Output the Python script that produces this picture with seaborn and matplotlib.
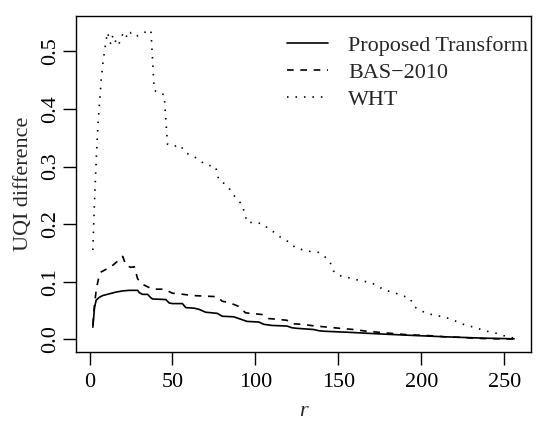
import numpy as np
import pandas as pd
import matplotlib
matplotlib.use("Agg")
import matplotlib.pyplot as plt
import seaborn as sns

# ---------------- data ----------------
series_names = ["Proposed Transform", "BAS\u22122010", "WHT"]

proposed_r = [2, 3, 4, 6, 8, 12, 16, 20, 24, 29, 30, 32, 35, 37, 38, 46, 48, 50,
              56, 58, 63, 66, 70, 77, 80, 87, 90, 95, 102, 105, 110, 119, 122,
              125, 135, 138, 141, 157, 177, 197, 217, 237, 256]
proposed_uqi = [0.021, 0.055, 0.068, 0.073, 0.076, 0.079, 0.082, 0.084, 0.085,
                0.085, 0.081, 0.078, 0.078, 0.072, 0.070, 0.069, 0.063, 0.062,
                0.062, 0.055, 0.054, 0.052, 0.047, 0.045, 0.040, 0.039, 0.036,
                0.031, 0.030, 0.026, 0.024, 0.023, 0.020, 0.019, 0.017, 0.015,
                0.014, 0.012, 0.009, 0.0064, 0.004, 0.002, 0.0008]

bas_r = [2, 3, 4, 5, 6, 7, 9, 13, 17, 20, 22, 25, 27, 29, 31, 33, 38, 45, 50,
         54, 62, 69, 77, 80, 84, 90, 94, 97, 104, 108, 112, 119, 122, 128, 136,
         144, 151, 159, 167, 175, 183, 191, 199, 207, 215, 223, 231, 240, 256]
bas_uqi = [0.025, 0.060, 0.085, 0.100, 0.112, 0.117, 0.120, 0.126, 0.136,
           0.144, 0.128, 0.125, 0.126, 0.105, 0.098, 0.094, 0.087, 0.087,
           0.080, 0.079, 0.076, 0.075, 0.074, 0.066, 0.064, 0.057, 0.046,
           0.045, 0.043, 0.036, 0.035, 0.033, 0.027, 0.026, 0.023, 0.021,
           0.019, 0.017, 0.014, 0.012, 0.010, 0.008, 0.007, 0.006, 0.004,
           0.0035, 0.002, 0.001, 0.0005]

wht_r = [2, 3, 4, 5, 6, 7, 8, 9, 10, 11, 12, 13, 14, 15, 16, 17, 18, 19, 20,
         21, 22, 23, 24, 25, 26, 28, 29, 31, 33, 35, 37, 39, 41, 45, 47, 50,
         55, 57, 60, 62, 66, 70, 76, 78, 81, 84, 87, 90, 92, 95, 100, 105,
         108, 112, 116, 121, 124, 129, 134, 138, 142, 145, 147, 150, 155, 160,
         165, 170, 174, 178, 183, 188, 193, 196, 203, 208, 213, 218, 222, 227,
         232, 237, 242, 246, 251, 256]
wht_uqi = [0.155, 0.240, 0.310, 0.370, 0.410, 0.450, 0.478, 0.500, 0.520,
           0.533, 0.517, 0.513, 0.528, 0.527, 0.513, 0.510, 0.515, 0.522,
           0.530, 0.534, 0.528, 0.523, 0.528, 0.533, 0.534, 0.530, 0.527,
           0.530, 0.533, 0.535, 0.537, 0.433, 0.428, 0.425, 0.339, 0.335,
           0.337, 0.326, 0.321, 0.319, 0.312, 0.303, 0.300, 0.276, 0.271,
           0.263, 0.250, 0.240, 0.234, 0.203, 0.203, 0.200, 0.191, 0.185,
           0.175, 0.168, 0.159, 0.155, 0.152, 0.151, 0.143, 0.134, 0.119,
           0.111, 0.108, 0.104, 0.101, 0.098, 0.092, 0.085, 0.082, 0.076,
           0.072, 0.056, 0.045, 0.042, 0.039, 0.035, 0.030, 0.024, 0.021,
           0.016, 0.012, 0.010, 0.005, 0.002]

x_ticks = [0, 50, 100, 150, 200, 250]
y_ticks = [0.0, 0.1, 0.2, 0.3, 0.4, 0.5]
y_tick_labels = ["0.0", "0.1", "0.2", "0.3", "0.4", "0.5"]

# ---------------- styling ----------------
sns.set_style("ticks")
plt.rcParams['font.family'] = ['Liberation Serif', 'DejaVu Serif']
plt.rcParams['lines.scale_dashes'] = False
FS = 15.9

W, H = 538, 423
fig = plt.figure(figsize=(W / 100, H / 100), dpi=100)
ax = fig.add_axes([76 / W, (H - 351.7) / H, 455 / W, 335.7 / H])

series = [
    (series_names[0], proposed_r, proposed_uqi, '-'),
    (series_names[1], bas_r, bas_uqi, (0, (4.8, 4.8))),
    (series_names[2], wht_r, wht_uqi, (0, (1.1, 5.0))),
]

handles = []
for name, r, v, ls in series:
    df = pd.DataFrame({"r": r, "uqi": v})
    sns.lineplot(data=df, x="r", y="uqi", ax=ax, color="black",
                 linewidth=1.2, estimator=None, sort=False)
    line = ax.lines[-1]
    line.set_linestyle(ls)
    line.set_label(name)
    handles.append(line)

ax.set_xlim(-8.16, 266.16)
ax.set_ylim(-0.0216, 0.5616)
ax.set_xticks(x_ticks)
ax.set_xticklabels([str(t) for t in x_ticks])
ax.set_yticks(y_ticks)
ax.set_yticklabels(y_tick_labels, rotation=90, va='center')

for sp in ax.spines.values():
    sp.set_visible(True)
    sp.set_color('black')
    sp.set_linewidth(1.0)

ax.tick_params(axis='both', direction='out', length=9.4, width=1.0,
               colors='black', labelsize=FS, bottom=True, left=True)
ax.tick_params(axis='x', pad=6)
ax.tick_params(axis='y', pad=2)

ax.set_xlabel("r", fontsize=FS, style='italic', labelpad=7)
ax.set_ylabel("UQI difference", fontsize=FS, labelpad=6)

ax.legend(handles=handles, labels=series_names, loc='upper left',
          bbox_to_anchor=(0.463, 0.943), frameon=False, fontsize=FS,
          handlelength=1.88, handletextpad=0.9, labelspacing=0.3,
          borderpad=0, borderaxespad=0)

fig.savefig("out.png", dpi=100)
